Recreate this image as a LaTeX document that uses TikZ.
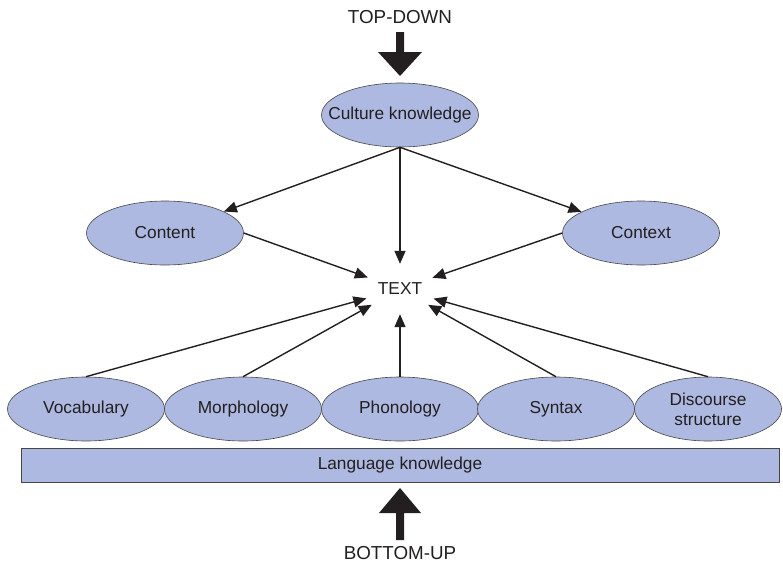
\documentclass[tikz,border=0pt]{standalone}
\usepackage{fontspec}
\setmainfont{Liberation Sans}
\usetikzlibrary{shapes.geometric,arrows.meta}
\definecolor{fillblue}{RGB}{173,185,224}
\definecolor{txt}{RGB}{35,31,32}
\definecolor{edgegray}{RGB}{70,70,70}
\begin{document}
\begin{tikzpicture}[x=1pt,y=-1pt,
  oval/.style={ellipse, draw=edgegray, line width=0.6pt, fill=fillblue,
    minimum width=157pt, minimum height=64pt, inner sep=0pt, text=txt,
    font=\fontsize{17.3}{20}\selectfont, align=center},
  arr/.style={-{Triangle[length=13pt,width=11pt]}, line width=1.4pt, draw=txt},
  lbl/.style={text=txt, font=\fontsize{18.8}{22}\selectfont, inner sep=0pt},
  bigarrow/.style={fill=txt}]
\useasboundingbox (0,0) rectangle (783,565);

\node[lbl] (topdown) at (400,17) {TOP-DOWN};
\node[oval, inner xsep=-20pt] (culture) at (400,115) {Culture knowledge};
\node[oval] (content) at (165,233) {Content};
\node[oval] (context) at (641,233) {Context};
\node[ellipse, minimum width=72pt, minimum height=50pt, inner sep=0pt, text=txt,
  font=\fontsize{17.3}{20}\selectfont] (text) at (400,289) {TEXT};

\node[oval] (vocab) at (86,409) {Vocabulary};
\node[oval] (morph) at (243,409) {Morphology};
\node[oval] (phon) at (400,409) {Phonology};
\node[oval] (syntax) at (556,409) {Syntax};
\node[oval, minimum width=147pt] (disc) at (708,409) {Discourse\\structure};

\node[draw=edgegray, line width=0.8pt, fill=fillblue, minimum width=758pt, minimum height=34pt,
  inner sep=0pt, text=txt, font=\fontsize{17.3}{20}\selectfont] (lang) at (400,465) {Language knowledge};
\node[lbl] (bottomup) at (400,553) {BOTTOM-UP};

% big arrows
\fill[bigarrow] (396,32) -- (404,32) -- (404,52) -- (422,52) -- (400,76) -- (378,52) -- (396,52) -- cycle;
\fill[bigarrow] (396,540) -- (404,540) -- (404,513) -- (421,513) -- (400,488) -- (379,513) -- (396,513) -- cycle;

% connectors
\draw[arr] (culture.south) -- (content);
\draw[arr] (culture.south) -- (context);
\draw[arr] (culture.south) -- (text);
\draw[arr] (content.east) -- (text);
\draw[arr] (context.west) -- (text);
\draw[arr] (vocab.north) -- (text);
\draw[arr] (morph.north) -- (text);
\draw[arr] (phon.north) -- (text);
\draw[arr] (syntax.north) -- (text);
\draw[arr] (disc.north) -- (text);
\end{tikzpicture}
\end{document}
